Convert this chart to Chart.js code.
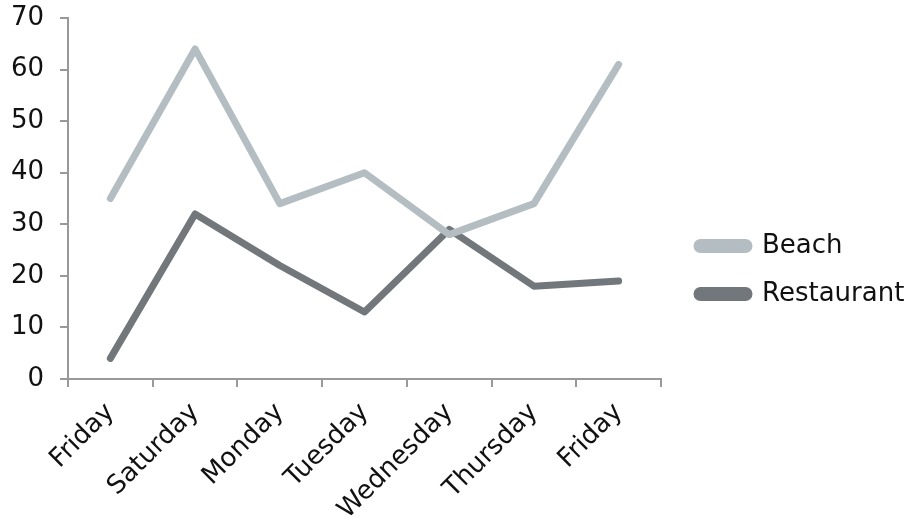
<!DOCTYPE html>
<html lang="en">
<head>
    <meta charset="UTF-8">
    <title>Beach vs Restaurant</title>
    <script src="https://cdn.jsdelivr.net/npm/chart.js"></script>
    <style>
        body {
            margin: 0;
            background-color: #fff;
        }

        .chart-container {
            width: 911px;
            height: 522px;
        }
    </style>
</head>
<body>

    <div class="chart-container">
        <canvas id="visitChart" width="911" height="522"></canvas>
    </div>

    <script>
        // Data
        const days = ['Friday', 'Saturday', 'Monday', 'Tuesday', 'Wednesday', 'Thursday', 'Friday'];
        const beach = [35, 64, 34, 40, 28, 34, 61];
        const restaurant = [4, 32, 22, 13, 29, 18, 19];
        const yTicks = [0, 10, 20, 30, 40, 50, 60, 70];

        const axisColor = '#999';
        const font = { family: '"DejaVu Sans", Verdana, sans-serif', size: 26 };

        // Chart.js caps side boxes at availableWidth / 2 / count, so the left
        // padding is pushed off-canvas to give the legend room; the y axis
        // takes that width back so the plot still starts at x = 68.
        const offLeft = 505;

        function lineSet(label, values, color) {
            return {
                label: label,
                data: values,
                borderColor: color,
                backgroundColor: color,
                borderWidth: 7,
                borderCapStyle: 'round',
                borderJoinStyle: 'round',
                pointRadius: 0,
                tension: 0,
                fill: false
            };
        }

        const ctx = document.getElementById('visitChart').getContext('2d');

        new Chart(ctx, {
            type: 'line',
            data: {
                labels: days,
                datasets: [
                    lineSet('Beach', beach, '#b3bdc2'),
                    lineSet('Restaurant', restaurant, '#72777c')
                ]
            },
            options: {
                responsive: false,
                animation: false,
                layout: { padding: { top: 18, left: -offLeft, right: 0, bottom: 0 } },
                plugins: {
                    tooltip: { enabled: false },
                    legend: {
                        position: 'right',
                        labels: {
                            color: '#111',
                            font: font,
                            boxWidth: 52,
                            boxHeight: 7,
                            useBorderRadius: true,
                            borderRadius: 3.5,
                            padding: 22
                        }
                    }
                },
                scales: {
                    x: {
                        offset: true,
                        grid: {
                            offset: true,
                            drawOnChartArea: false,
                            color: axisColor,
                            lineWidth: 2,
                            tickLength: 8
                        },
                        border: { color: axisColor, width: 2 },
                        ticks: {
                            color: '#111',
                            font: font,
                            minRotation: 45,
                            maxRotation: 45,
                            padding: 10
                        },
                        afterFit: function(scale) { scale.height = 143; }
                    },
                    y: {
                        min: yTicks[0],
                        max: yTicks[yTicks.length - 1],
                        afterBuildTicks: function(scale) {
                            scale.ticks = yTicks.map(v => ({ value: v }));
                        },
                        grid: {
                            drawOnChartArea: false,
                            color: axisColor,
                            lineWidth: 2,
                            tickLength: 8
                        },
                        border: { color: axisColor, width: 2 },
                        ticks: {
                            color: '#111',
                            font: font,
                            padding: 16
                        },
                        afterFit: function(scale) {
                            scale.width = 68 + offLeft;
                            scale.paddingTop = 0;
                            scale.paddingBottom = 0;
                        }
                    },
                    gap: {
                        position: 'right',
                        display: true,
                        grid: { display: false },
                        border: { display: false },
                        ticks: { display: false },
                        afterFit: function(scale) { scale.width = 14; }
                    }
                }
            }
        });
    </script>

</body>
</html>
